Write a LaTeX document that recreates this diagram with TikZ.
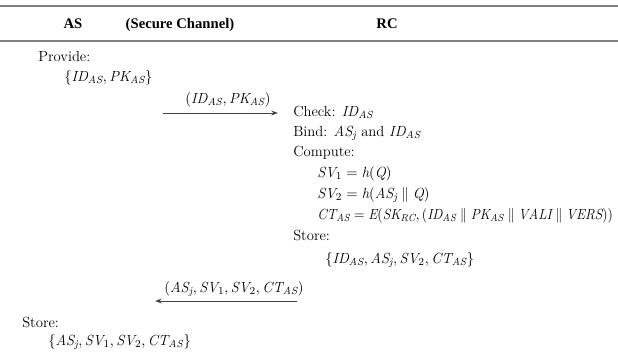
\documentclass[tikz,border=0pt]{standalone}
\usepackage{fontspec}
\newfontfamily\headfont{Liberation Serif}
\usetikzlibrary{arrows.meta}
\definecolor{rulegray}{RGB}{128,128,128}
\definecolor{msgline}{RGB}{60,64,72}
% italic identifiers set with the text italic (tighter than math italic)
\newcommand\mi[1]{\mathit{#1}}
\begin{document}
\begin{tikzpicture}[x=0.75pt,y=-0.75pt,
  txt/.style={anchor=base west,inner sep=0pt,font=\fontsize{11}{13}\selectfont},
  head/.style={anchor=base,inner sep=0pt,font=\headfont\bfseries\fontsize{11}{13}\selectfont},
  msg/.style={anchor=base,inner sep=0pt,font=\fontsize{11}{13}\selectfont},
  rulel/.style={draw=rulegray,line width=1.5pt},
  arr/.style={draw=msgline,line width=0.7pt,-{Stealth[length=5pt,width=3.6pt]}}]
\useasboundingbox (0,0) rectangle (618,354);

% table rules
\coordinate (r1l) at (0,6);   \coordinate (r1r) at (618,6);
\coordinate (r2l) at (0,41);  \coordinate (r2r) at (618,41);
\draw[rulel] (r1l) -- (r1r);
\draw[rulel] (r2l) -- (r2r);

% column heads
\node[head] (hAS) at (73,28) {AS};
\node[head] (hSC) at (180,28) {(Secure Channel)};
\node[head] (hRC) at (387,28) {RC};

% AS: provide
\node[txt] (prov) at (38,61) {Provide:};
\node[txt] (provset) at (64,81) {$\{\mi{ID}_{\mi{AS}}, \mi{PK}_{\mi{AS}}\}$};

% message 1
\node[msg] (m1) at (228,103) {$(\mi{ID}_{\mi{AS}}, \mi{PK}_{\mi{AS}})$};
\coordinate (m1s) at (163,113);
\coordinate (m1e) at (278,113);
\draw[arr] (m1s) -- (m1e);

% RC processing
\node[txt] (chk)  at (293,116) {Check: $\mi{ID}_{\mi{AS}}$};
\node[txt] (bind) at (293,136) {Bind: $\mi{AS}_{\mi{j}}$ and $\mi{ID}_{\mi{AS}}$};
\node[txt] (comp) at (293,156) {Compute:};
\node[txt] (sv1)  at (317,177) {$\mi{SV}_1 = \mi{h}(\mi{Q})$};
\node[txt] (sv2)  at (317,198) {$\mi{SV}_2 = \mi{h}(\mi{AS}_{\mi{j}} \parallel \mi{Q})$};
\node[txt] (ct)   at (317,219) {\scalebox{0.93}[1]{$\mi{CT}_{\mi{AS}} = \mi{E}\bigl(\mi{SK}_{\mi{RC}}, (\mi{ID}_{\mi{AS}} \parallel \mi{PK}_{\mi{AS}} \parallel \mi{VALI} \parallel \mi{VERS})\bigr)$}};
\node[txt] (rcst) at (293,240) {Store:};
\node[txt] (rcset) at (325,263) {$\{\mi{ID}_{\mi{AS}}, \mi{AS}_{\mi{j}}, \mi{SV}_2, \mi{CT}_{\mi{AS}}\}$};

% message 2
\node[msg] (m2) at (234,292) {$(\mi{AS}_{\mi{j}}, \mi{SV}_1, \mi{SV}_2, \mi{CT}_{\mi{AS}})$};
\coordinate (m2s) at (297,301);
\coordinate (m2e) at (155,301);
\draw[arr] (m2s) -- (m2e);

% AS: store
\node[txt] (asst)  at (22,327) {Store:};
\node[txt] (asset) at (48,345) {$\{\mi{AS}_{\mi{j}}, \mi{SV}_1, \mi{SV}_2, \mi{CT}_{\mi{AS}}\}$};
\end{tikzpicture}
\end{document}
